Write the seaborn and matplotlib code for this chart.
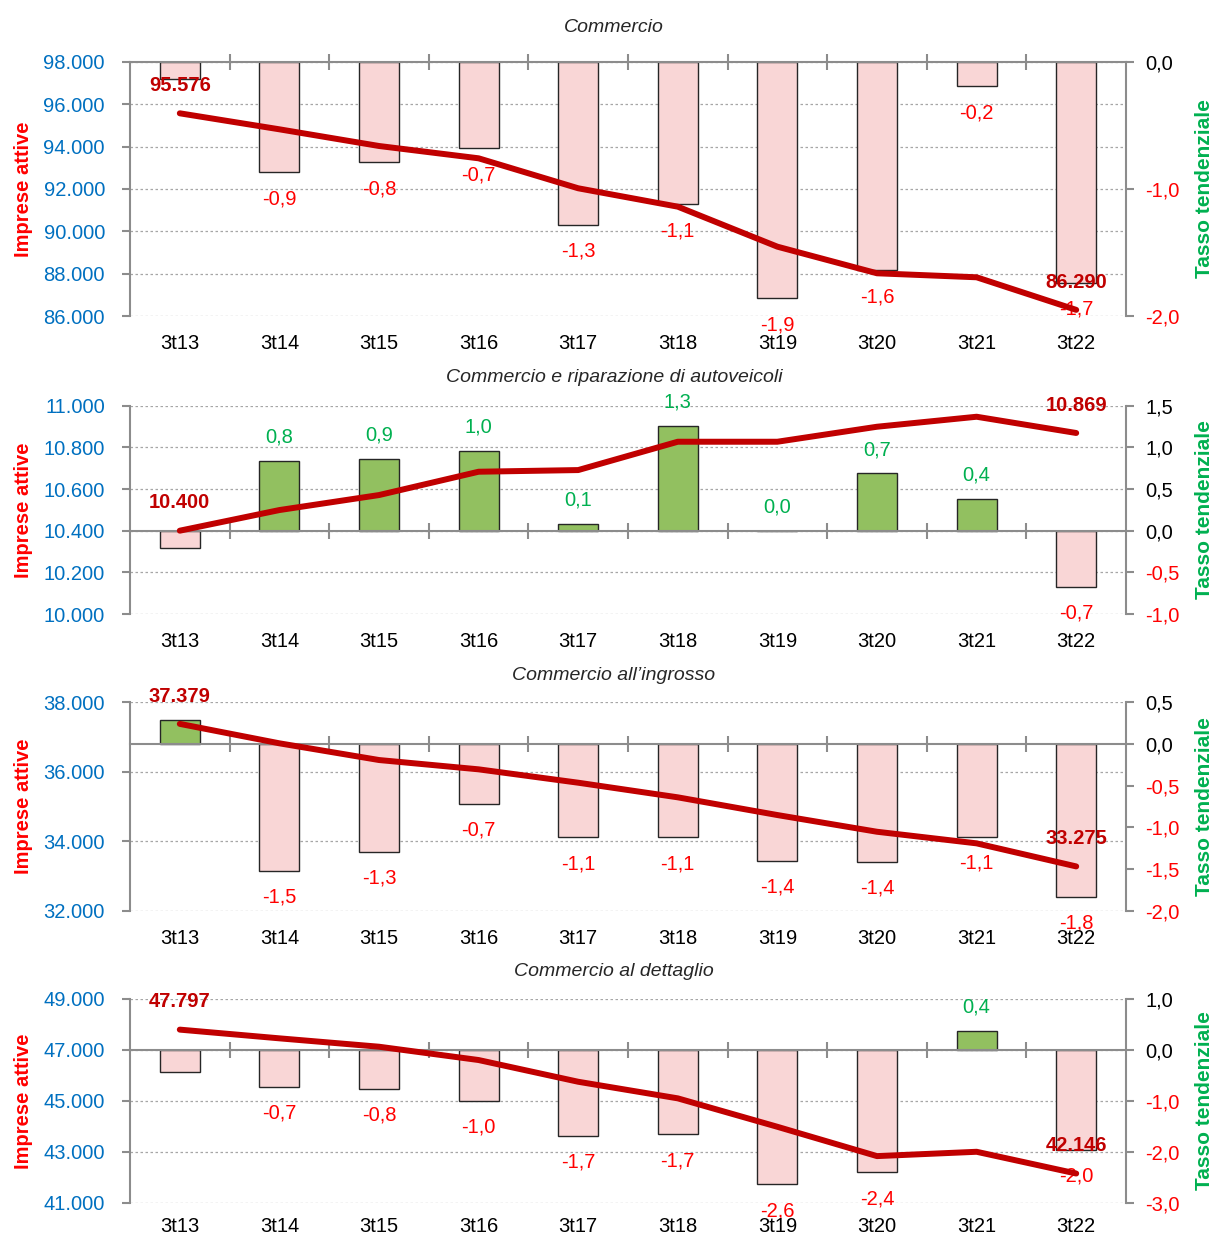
import numpy as np
import pandas as pd
import matplotlib
matplotlib.use("Agg")
import matplotlib.pyplot as plt
import matplotlib.transforms as mtransforms
from matplotlib.ticker import FuncFormatter
import seaborn as sns

# ---- data ----
cats = ["3t13", "3t14", "3t15", "3t16", "3t17", "3t18", "3t19", "3t20", "3t21", "3t22"]

titles = ["Commercio",
          "Commercio e riparazione di autoveicoli",
          "Commercio all\u2019ingrosso",
          "Commercio al dettaglio"]

# imprese attive (left axis, line)
imp_commercio = [95576, 94820, 94032, 93450, 92034, 91165, 89275, 88018, 87829, 86290]
imp_autoveicoli = [10400, 10499, 10571, 10683, 10691, 10827, 10827, 10899, 10947, 10869]
imp_ingrosso = [37379, 36819, 36338, 36070, 35685, 35264, 34754, 34273, 33939, 33275]
imp_dettaglio = [47797, 47455, 47126, 46603, 45750, 45098, 43981, 42830, 43000, 42146]

# tasso tendenziale (right axis, bars)
tas_commercio = [-0.13, -0.87, -0.79, -0.68, -1.28, -1.12, -1.86, -1.64, -0.19, -1.74]
tas_autoveicoli = [-0.21, 0.84, 0.86, 0.96, 0.08, 1.26, 0.0, 0.69, 0.38, -0.67]
tas_ingrosso = [0.29, -1.52, -1.29, -0.72, -1.12, -1.12, -1.40, -1.41, -1.11, -1.83]
tas_dettaglio = [-0.43, -0.72, -0.76, -1.0, -1.69, -1.66, -2.64, -2.40, 0.38, -1.96]

imprese = [imp_commercio, imp_autoveicoli, imp_ingrosso, imp_dettaglio]
tassi = [tas_commercio, tas_autoveicoli, tas_ingrosso, tas_dettaglio]

left_ticks = [np.arange(86000, 98001, 2000), np.arange(10000, 11001, 200),
              np.arange(32000, 38001, 2000), np.arange(41000, 49001, 2000)]
right_ticks = [[-2.0, -1.0, 0.0], [-1.0, -0.5, 0.0, 0.5, 1.0, 1.5],
               [-2.0, -1.5, -1.0, -0.5, 0.0, 0.5], [-3.0, -2.0, -1.0, 0.0, 1.0]]

# ---- style ----
sns.set_style("white")
plt.rcParams["font.family"] = ["Liberation Sans", "DejaVu Sans"]

BLUE = "#0070C0"
RED = "#FF0000"
DARKRED = "#C00000"
GREEN = "#00B050"
BAR_POS = "#92D050"
BAR_NEG = "#FFD0D0"
SPINE = "#8C8C8C"

# axes rectangles in pixels (top, bottom) on a 1216x1237 canvas
W, H = 1216, 1237
panel_y = [(62, 316), (405.7, 614), (702.3, 910.7), (999, 1202.7)]
title_y = [28, 378, 676, 972]
xlabel_pad = [13, 13, 13, 10]
x0, x1 = 130, 1126


def it_int(v, pos=None):
    return f"{int(round(v)):,}".replace(",", ".")


def it_dec(v, pos=None):
    return f"{v:.1f}".replace(".", ",")


fig = plt.figure(figsize=(W / 100, H / 100), dpi=100)

for k in range(4):
    top, bot = panel_y[k]
    ax = fig.add_axes([x0 / W, 1 - bot / H, (x1 - x0) / W, (bot - top) / H])
    ax2 = ax.twinx()

    df = pd.DataFrame({"cat": cats, "tasso": tassi[k]})
    df["segno"] = np.where(df["tasso"] >= 0, "pos", "neg")

    sns.barplot(data=df, x="cat", y="tasso", hue="segno", order=cats,
                palette={"pos": BAR_POS, "neg": BAR_NEG}, dodge=False,
                width=0.4, edgecolor="#262626", linewidth=1, legend=False,
                ax=ax2, zorder=2)

    sns.lineplot(x=np.arange(len(cats)), y=imprese[k], ax=ax, color=DARKRED,
                 linewidth=4.3, solid_capstyle="round", zorder=5)

    ax.set_zorder(ax2.get_zorder() + 1)
    ax.patch.set_visible(False)

    lt = left_ticks[k]
    rt = right_ticks[k]
    ax.set_ylim(lt[0], lt[-1])
    ax2.set_ylim(rt[0], rt[-1])
    ax.set_xlim(-0.5, len(cats) - 0.5)

    # dotted gridlines following the left scale, drawn beneath the bars
    trans = mtransforms.blended_transform_factory(ax2.transAxes, ax.transData)
    for t in lt:
        ax2.plot([0, 1], [t, t], transform=trans, color="#A6A6A6",
                 linewidth=0.9, linestyle=(0, (2, 2)), zorder=0)

    # left axis
    ax.set_yticks(lt)
    ax.yaxis.set_major_formatter(FuncFormatter(it_int))
    ax.tick_params(axis="y", colors=SPINE, labelcolor=BLUE, labelsize=14.5,
                   direction="out", length=6, width=1.5, pad=12)
    ax.set_ylabel("Imprese attive", color=RED, fontsize=14.5, fontweight="bold")
    ax.yaxis.set_label_coords(-0.097, 0.5)

    # category labels at the bottom
    ax.set_xticks(range(len(cats)))
    ax.set_xticklabels(cats)
    ax.set_xticks(np.arange(0.5, len(cats) - 1), minor=True)
    ax.tick_params(axis="x", which="both", length=0, labelsize=14.5,
                   pad=xlabel_pad[k], labelcolor="black")
    ax.set_xlabel("")
    for s in ["top", "right", "bottom"]:
        ax.spines[s].set_visible(False)
    ax.spines["left"].set_color(SPINE)
    ax.spines["left"].set_linewidth(1.5)

    # right axis
    ax2.set_yticks(rt)
    ax2.set_yticklabels([it_dec(v) for v in rt])
    ax2.tick_params(axis="y", colors=SPINE, labelsize=14.5, direction="out",
                    length=6, width=1.5, pad=8)
    for lbl, v in zip(ax2.get_yticklabels(), rt):
        lbl.set_color(RED if v < 0 else "black")
    ax2.set_ylabel("Tasso tendenziale", color=GREEN, fontsize=15,
                   fontweight="bold")
    ax2.yaxis.set_label_coords(1.069, 0.5)
    ax2.set_xlabel("")

    # zero line with separator ticks
    ax2.xaxis.set_visible(True)
    ax2.spines["bottom"].set_position(("data", 0))
    ax2.spines["bottom"].set_color(SPINE)
    ax2.spines["bottom"].set_linewidth(1.5)
    ax2.tick_params(axis="x", which="major", length=0, labelbottom=False)
    ax2.tick_params(axis="x", which="minor", direction="inout", length=12,
                    width=1.5, color=SPINE, bottom=True)
    for s in ["top", "left"]:
        ax2.spines[s].set_visible(False)
    ax2.spines["right"].set_color(SPINE)
    ax2.spines["right"].set_linewidth(1.5)

    # bar value labels (first quarter not labelled)
    for i, v in enumerate(tassi[k]):
        if i == 0:
            continue
        pos = v >= 0
        ax2.annotate(it_dec(v), (i, v), xytext=(0, 17 if pos else -19),
                     textcoords="offset points", ha="center", va="center",
                     fontsize=14.5, color=GREEN if pos else RED,
                     annotation_clip=False, zorder=6)

    # first and last value of the line
    vals = imprese[k]
    for i in [0, len(vals) - 1]:
        ax.annotate(it_int(vals[i]), (i, vals[i]), xytext=(0, 20),
                    textcoords="offset points", ha="center", va="center",
                    fontsize=14.5, fontweight="bold", color=DARKRED,
                    annotation_clip=False, zorder=7)

    fig.text(614 / W, 1 - title_y[k] / H, titles[k], ha="center",
             va="center", fontsize=14, fontstyle="italic")

fig.savefig("out.png", dpi=100, facecolor="white")
